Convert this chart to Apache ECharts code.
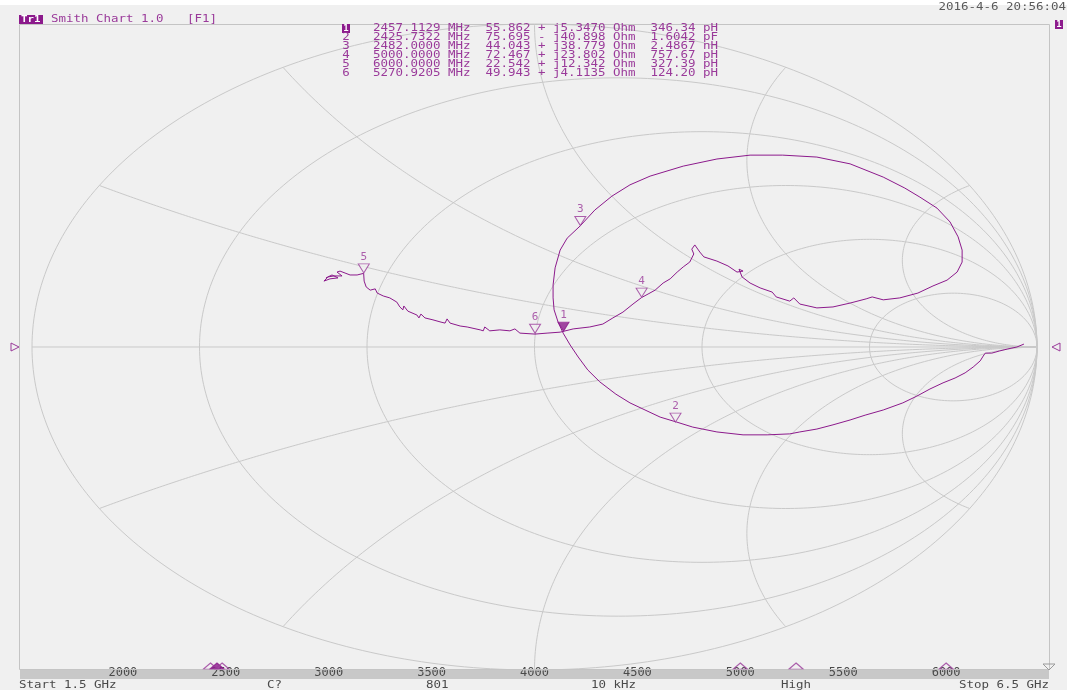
<!DOCTYPE html>
<html>
<head>
<meta charset="utf-8">
<title>Smith Chart 1.0</title>
<script src="https://cdn.jsdelivr.net/npm/echarts@6/dist/echarts.min.js"></script>
<style>
  html, body { margin: 0; padding: 0; background: #f0f0f0; }
  #chart { width: 1067px; height: 690px; }
</style>
</head>
<body>
<div id="chart"></div>
<script>
// Smith chart grid: constant-resistance circles and constant-reactance arcs (normalised)
const rCircles = [0, 0.2, 0.5, 1, 2, 5];
const xArcs = [0.268, 0.577, 1, 1.732, 3.732, -0.268, -0.577, -1, -1.732, -3.732];

// S11 trace as reflection coefficient (real, imaginary), 1.5 GHz -> 6.5 GHz
const traceRe = [0.974,0.960,0.942,0.926,0.910,0.897,0.893,0.887,0.873,0.857,
  0.837,0.813,0.787,0.761,0.733,0.694,0.658,0.628,0.594,0.562,
  0.528,0.508,0.463,0.415,0.363,0.315,0.282,0.250,0.220,0.190,
  0.162,0.130,0.106,0.087,0.071,0.057,0.047,0.039,0.037,0.037,
  0.041,0.051,0.065,0.091,0.120,0.154,0.190,0.230,0.296,0.363,
  0.429,0.494,0.562,0.628,0.694,0.737,0.767,0.801,0.827,0.843,
  0.851,0.851,0.841,0.821,0.793,0.763,0.727,0.694,0.672,0.660,
  0.628,0.594,0.562,0.528,0.516,0.508,0.481,0.473,0.449,0.429,
  0.413,0.407,0.415,0.403,0.385,0.363,0.337,0.329,0.319,0.313,
  0.317,0.309,0.296,0.284,0.270,0.256,0.240,0.226,0.213,0.196,
  0.176,0.156,0.136,0.110,0.077,0.051,0.025,
  0.001,-0.029,-0.039,-0.049,-0.069,-0.089,-0.099,-0.102,-0.108,-0.134,
  -0.148,-0.168,-0.174,-0.178,-0.186,-0.202,-0.218,-0.226,-0.230,-0.234,
  -0.252,-0.260,-0.262,-0.268,-0.274,-0.288,-0.301,-0.313,-0.317,-0.327,
  -0.335,-0.339,-0.340,-0.353,-0.367,-0.377,-0.387,-0.393,-0.383,-0.399,
  -0.411,-0.419,-0.407,-0.391,-0.403,-0.415];
const traceIm = [0.009,0,-0.006,-0.012,-0.019,-0.019,-0.028,-0.043,-0.062,-0.080,
  -0.096,-0.111,-0.130,-0.152,-0.173,-0.195,-0.211,-0.226,-0.241,-0.254,
  -0.263,-0.269,-0.272,-0.272,-0.263,-0.248,-0.232,-0.217,-0.195,-0.173,
  -0.146,-0.108,-0.071,-0.031,0.006,0.043,0.077,0.115,0.152,0.192,
  0.245,0.300,0.337,0.375,0.424,0.467,0.502,0.529,0.560,0.582,
  0.594,0.594,0.588,0.567,0.526,0.492,0.464,0.430,0.387,0.341,
  0.300,0.263,0.232,0.207,0.189,0.167,0.152,0.146,0.155,0.149,
  0.136,0.124,0.121,0.133,0.152,0.142,0.155,0.170,0.183,0.198,
  0.217,0.241,0.235,0.232,0.251,0.266,0.279,0.294,0.316,0.303,
  0.288,0.263,0.248,0.232,0.211,0.198,0.176,0.164,0.153,0.133,
  0.108,0.090,0.071,0.062,0.056,0.046,0.043,
  0.040,0.043,0.056,0.050,0.053,0.050,0.062,0.050,0.053,0.062,
  0.065,0.074,0.087,0.074,0.077,0.084,0.090,0.102,0.090,0.099,
  0.111,0.127,0.115,0.124,0.139,0.152,0.158,0.167,0.180,0.176,
  0.186,0.204,0.228,0.223,0.223,0.229,0.235,0.232,0.220,0.220,
  0.217,0.204,0.211,0.214,0.223,0.214];

// Marker table
const markerNo = ['1', '2', '3', '4', '5', '6'];
const markerFreqMHz = [2457.1129, 2425.7322, 2482.0000, 5000.0000, 6000.0000, 5270.9205];
const markerR = [55.862, 75.695, 44.043, 72.467, 22.542, 49.943];
const markerX = [5.3470, -40.898, 38.779, 23.802, 12.342, 4.1135];
const markerEq = ['346.34 pH', '1.6042 pF', '2.4867 nH', '757.67 pH', '327.39 pH', '124.20 pH'];
const activeMarker = 0;

// Frequency scale along the bottom (MHz)
const freqStart = 1500, freqStop = 6500, freqStep = 500;
const z0 = 50;

const PURPLE = '#8c1a8c';
const TEXT_PURPLE = '#9a3a9a';
const GRID = '#c9c9c9';
const MONO = '"DejaVu Sans Mono", monospace';
const TEXT_SX = 1.246; // wide instrument-style glyphs

function gammaOf(R, X) {
  const r = R / z0, x = X / z0;
  const dr = r + 1, dn = r - 1, d = dr * dr + x * x;
  return [(dn * dr + x * x) / d, (x * dr - dn * x) / d];
}

function rCircle(r) {
  const c = r / (1 + r), rho = 1 / (1 + r), pts = [];
  for (let i = 0; i <= 360; i++) {
    const t = i * Math.PI / 180;
    pts.push([c + rho * Math.cos(t), rho * Math.sin(t)]);
  }
  return pts;
}

function xArc(x) {
  const ax = Math.abs(x), rho = 1 / ax, cy = 1 / ax;
  const er = (ax * ax - 1) / (ax * ax + 1), ei = 2 * ax / (ax * ax + 1);
  const t0 = -Math.PI / 2;
  let te = Math.atan2(ei - cy, er - 1);
  while (te > t0) te -= 2 * Math.PI;
  const pts = [], n = 300;
  for (let i = 0; i <= n; i++) {
    const t = t0 + (te - t0) * i / n;
    const re = 1 + rho * Math.cos(t), im = cy + rho * Math.sin(t);
    pts.push([re, x > 0 ? im : -im]);
  }
  return pts;
}

const gridLine = (data) => ({
  type: 'line', xAxisIndex: 0, yAxisIndex: 0, data, showSymbol: false, silent: true,
  clip: false, animation: false, z: 1,
  lineStyle: { color: GRID, width: 1 }
});

const series = [];
rCircles.forEach(r => series.push(gridLine(rCircle(r))));
xArcs.forEach(x => series.push(gridLine(xArc(x))));
series.push(gridLine([[-1, 0], [1, 0]]));

// measured trace
series.push({
  type: 'line', xAxisIndex: 0, yAxisIndex: 0, showSymbol: false, silent: true,
  animation: false, clip: false, z: 3,
  data: traceRe.map((v, i) => [v, traceIm[i]]),
  lineStyle: { color: PURPLE, width: 1 }
});

// marker triangles on the trace
series.push({
  type: 'scatter', xAxisIndex: 0, yAxisIndex: 0, animation: false, z: 5,
  symbol: 'triangle', symbolRotate: 180, symbolSize: [11, 9], symbolOffset: [0, -5],
  data: markerR.map((R, i) => ({
    value: gammaOf(R, markerX[i]),
    name: markerNo[i],
    itemStyle: i === activeMarker
      ? { color: PURPLE, borderColor: PURPLE, borderWidth: 1 }
      : { color: '#f0f0f0', borderColor: TEXT_PURPLE, borderWidth: 1 }
  })),
  label: {
    show: true, position: 'top', distance: 1, formatter: p => p.name,
    color: TEXT_PURPLE, fontFamily: MONO, fontSize: 11
  }
});

// marker stimulus positions on the frequency band
series.push({
  type: 'scatter', xAxisIndex: 1, yAxisIndex: 1, animation: false, z: 5,
  symbol: 'triangle', symbolSize: [14, 6], symbolOffset: [0, -3],
  data: markerFreqMHz.map((f, i) => ({
    value: [f, 1],
    itemStyle: i === activeMarker
      ? { color: PURPLE, borderColor: PURPLE, borderWidth: 1 }
      : { color: 'rgba(0,0,0,0)', borderColor: TEXT_PURPLE, borderWidth: 1 }
  }))
});

// text blocks
const graphics = [];
const txt = (x, y, text, fill, extra, sx) => ({
  type: 'text', x, y, silent: true, z: 10, scaleX: sx === undefined ? TEXT_SX : sx,
  style: Object.assign({ text, fill, font: '10px ' + MONO, align: 'left', verticalAlign: 'middle' }, extra || {})
});

graphics.push({ type: 'rect', shape: { x: 0, y: 0, width: 1067, height: 5 }, style: { fill: '#ffffff' }, silent: true, z: 0 });
graphics.push({ type: 'rect', shape: { x: 19.5, y: 24.5, width: 1030, height: 645 }, style: { fill: null, stroke: '#c4c4c4', lineWidth: 1 }, silent: true, z: 2 });

// title
graphics.push({ type: 'rect', shape: { x: 19, y: 15, width: 24, height: 9 }, style: { fill: PURPLE }, silent: true, z: 9 });
graphics.push(txt(21, 19.5, 'Tr1', '#ffffff', { font: 'bold 9px ' + MONO }, 1.2));
graphics.push(txt(51, 19, 'Smith Chart 1.0', TEXT_PURPLE));
graphics.push(txt(187, 19, '[F1]', TEXT_PURPLE));
graphics.push(txt(1066, 7, '2016-4-6 20:56:04', '#5a5a5a', { align: 'right' }));
graphics.push({ type: 'rect', shape: { x: 1055, y: 20, width: 8, height: 9 }, style: { fill: PURPLE }, silent: true, z: 9 });
graphics.push(txt(1059, 24.5, '1', '#ffffff', { align: 'center', font: 'bold 9px ' + MONO }, 1));

// marker readout rows
markerNo.forEach((n, i) => {
  const y = 28 + i * 9;
  const X = markerX[i];
  const row = markerFreqMHz[i].toFixed(4) + ' MHz  ' + markerR[i].toPrecision(5) + ' ' +
    (X >= 0 ? '+' : '-') + ' j' + Math.abs(X).toPrecision(5) + ' Ohm  ' + markerEq[i];
  if (i === activeMarker) {
    graphics.push({ type: 'rect', shape: { x: 342, y: y - 4, width: 8, height: 9 }, style: { fill: PURPLE }, silent: true, z: 9 });
    graphics.push(txt(346, y + 0.5, n, '#ffffff', { align: 'center', font: 'bold 9px ' + MONO }, 1));
  } else {
    graphics.push(txt(346, y, n, TEXT_PURPLE, { align: 'center' }));
  }
  graphics.push(txt(373, y, row, TEXT_PURPLE));
});

// reference position indicators
graphics.push({ type: 'polygon', shape: { points: [[11, 343], [19, 347], [11, 351]] }, style: { fill: null, stroke: TEXT_PURPLE }, silent: true, z: 9 });
graphics.push({ type: 'polygon', shape: { points: [[1060, 343], [1052, 347], [1060, 351]] }, style: { fill: null, stroke: TEXT_PURPLE }, silent: true, z: 9 });
graphics.push({ type: 'polygon', shape: { points: [[1043, 664], [1055, 664], [1049, 670]] }, style: { fill: null, stroke: '#9a9a9a' }, silent: true, z: 9 });

// status line
graphics.push(txt(19, 685, 'Start 1.5 GHz', '#4a4a4a'));
graphics.push(txt(267, 685, 'C?', '#4a4a4a'));
graphics.push(txt(426, 685, '801', '#4a4a4a'));
graphics.push(txt(591, 685, '10 kHz', '#4a4a4a'));
graphics.push(txt(781, 685, 'High', '#4a4a4a'));
graphics.push(txt(1049, 685, 'Stop 6.5 GHz', '#4a4a4a', { align: 'right' }));

const chart = echarts.init(document.getElementById('chart'), null, { renderer: 'canvas' });
chart.setOption({
  backgroundColor: '#f0f0f0',
  animation: false,
  grid: [
    { left: 32, right: 30, top: 24, bottom: 20 },
    { left: 20, right: 18, top: 669, height: 10, show: true, backgroundColor: '#c8c8c8', borderWidth: 0 }
  ],
  xAxis: [
    { gridIndex: 0, type: 'value', min: -1, max: 1, show: false },
    {
      gridIndex: 1, type: 'value', min: freqStart, max: freqStop, interval: freqStep,
      axisLine: { show: false }, axisTick: { show: false }, splitLine: { show: false },
      axisLabel: {
        inside: true, margin: 0, showMinLabel: false, showMaxLabel: false,
        formatter: v => String(v),
        color: '#4a4a4a', fontFamily: MONO, fontSize: 12, verticalAlign: 'bottom'
      }
    }
  ],
  yAxis: [
    { gridIndex: 0, type: 'value', min: -1, max: 1, show: false },
    { gridIndex: 1, type: 'value', min: 0, max: 1, show: false }
  ],
  graphic: graphics,
  series
});
</script>
</body>
</html>
